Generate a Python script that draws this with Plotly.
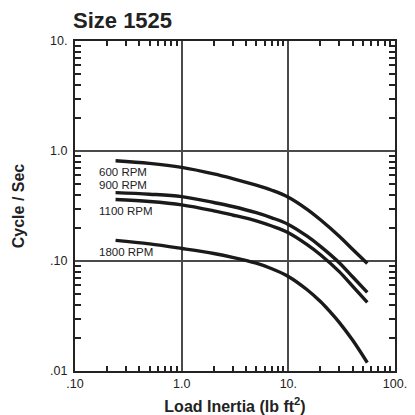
import math
import plotly.graph_objects as go

# ---- data ----
x_600 = [0.24, 0.5, 1, 2, 3, 5, 7, 10, 15, 20, 30, 40, 55]
y_600 = [0.815, 0.772, 0.71, 0.62, 0.562, 0.49, 0.44, 0.38, 0.295, 0.237, 0.168, 0.128, 0.095]

x_900 = [0.24, 0.5, 1, 2, 3, 5, 7, 10, 15, 20, 30, 40, 55]
y_900 = [0.418, 0.405, 0.385, 0.340, 0.313, 0.275, 0.247, 0.215, 0.168, 0.136, 0.0966, 0.0719, 0.0518]

x_1100 = [0.24, 0.5, 1, 2, 3, 5, 7, 10, 15, 20, 30, 40, 55]
y_1100 = [0.362, 0.347, 0.324, 0.286, 0.262, 0.232, 0.208, 0.181, 0.141, 0.114, 0.080, 0.059, 0.042]

x_1800 = [0.24, 0.5, 1, 2, 3, 5, 7, 10, 15, 20, 25, 30, 40, 55]
y_1800 = [0.154, 0.143, 0.130, 0.117, 0.108, 0.0955, 0.0851, 0.0724, 0.0548, 0.0428, 0.0340, 0.0277, 0.0191, 0.0119]

series = [("600 RPM", x_600, y_600), ("900 RPM", x_900, y_900),
          ("1100 RPM", x_1100, y_1100), ("1800 RPM", x_1800, y_1800)]

label_text = ["600 RPM", "900 RPM", "1100 RPM", "1800 RPM"]
label_x = [0.161, 0.161, 0.161, 0.161]
label_y = [0.64, 0.488, 0.283, 0.12]

x_tickvals = [0.1, 1, 10, 100]
x_ticktext = [".10", "1.0", "10.", "100."]
y_tickvals = [0.01, 0.1, 1, 10]
y_ticktext = [".01", ".10", "1.0", "10."]

minor_x = [m * d for d in (0.1, 1, 10) for m in range(2, 10)]
minor_y = [m * d for d in (0.01, 0.1, 1) for m in range(2, 10)]

fig = go.Figure()
for name, xs, ys in series:
    fig.add_trace(go.Scatter(x=xs, y=ys, mode="lines", name=name,
                             line=dict(color="#1a1a1a", width=3.4, shape="spline", smoothing=1.0),
                             showlegend=False, hoverinfo="skip"))

# invisible trace for mirrored axes
fig.add_trace(go.Scatter(x=[1], y=[1], xaxis="x2", yaxis="y2", mode="markers",
                         marker=dict(opacity=0), showlegend=False, hoverinfo="skip"))

for t, lx, ly in zip(label_text, label_x, label_y):
    fig.add_annotation(x=math.log10(lx), y=math.log10(ly), xref="x", yref="y", text=t,
                       showarrow=False, xanchor="left", yanchor="middle",
                       font=dict(family="Liberation Sans, Arial", size=11.5, color="#222"))

axis_font = dict(family="Liberation Sans, Arial", size=12.5, color="#222")

fig.update_layout(
    width=415, height=415,
    margin=dict(l=75, r=20, t=41, b=44),
    paper_bgcolor="white", plot_bgcolor="white",
    title=dict(text="<b>Size 1525</b>", x=73/415, xanchor="left", y=1-20/415, yanchor="middle",
               font=dict(family="Liberation Sans, Arial", size=22, color="#222")),
    xaxis=dict(type="log", range=[-1, 2], tickmode="array", tickvals=x_tickvals, ticktext=x_ticktext,
               ticks="", showgrid=True, gridcolor="#4a4a4a", gridwidth=1.5,
               showline=True, linecolor="#222", linewidth=2, mirror=True,
               tickfont=axis_font, zeroline=False, automargin=False,
               minor=dict(tickmode="array", tickvals=minor_x, ticks="inside", ticklen=5,
                          tickcolor="#222", tickwidth=1.5, showgrid=False),
               title=dict(text="<b>Load Inertia (lb ft<sup>2</sup>)</b>", standoff=14,
                          font=dict(family="Liberation Sans, Arial", size=16, color="#222"))),
    yaxis=dict(type="log", range=[-2, 1], tickmode="array", tickvals=y_tickvals, ticktext=y_ticktext,
               ticks="", showgrid=True, gridcolor="#4a4a4a", gridwidth=1.5,
               showline=True, linecolor="#222", linewidth=2, mirror=True,
               tickfont=axis_font, zeroline=False, automargin=False, ticklabelstandoff=3,
               minor=dict(tickmode="array", tickvals=minor_y, ticks="inside", ticklen=6,
                          tickcolor="#222", tickwidth=1.5, showgrid=False),
               title=dict(text="<b>Cycle / Sec</b>", standoff=22,
                          font=dict(family="Liberation Sans, Arial", size=16, color="#222"))),
    xaxis2=dict(type="log", range=[-1, 2], overlaying="x", side="top", anchor="y",
                showticklabels=False, showgrid=False, ticks="", zeroline=False, automargin=False,
                tickmode="array", tickvals=x_tickvals,
                minor=dict(tickmode="array", tickvals=minor_x, ticks="inside", ticklen=5,
                           tickcolor="#222", tickwidth=1.5, showgrid=False)),
    yaxis2=dict(type="log", range=[-2, 1], overlaying="y", side="right", anchor="x",
                showticklabels=False, showgrid=False, ticks="", zeroline=False, automargin=False,
                tickmode="array", tickvals=y_tickvals,
                minor=dict(tickmode="array", tickvals=minor_y, ticks="inside", ticklen=6,
                           tickcolor="#222", tickwidth=1.5, showgrid=False)),
)

fig.write_html("out.html")
